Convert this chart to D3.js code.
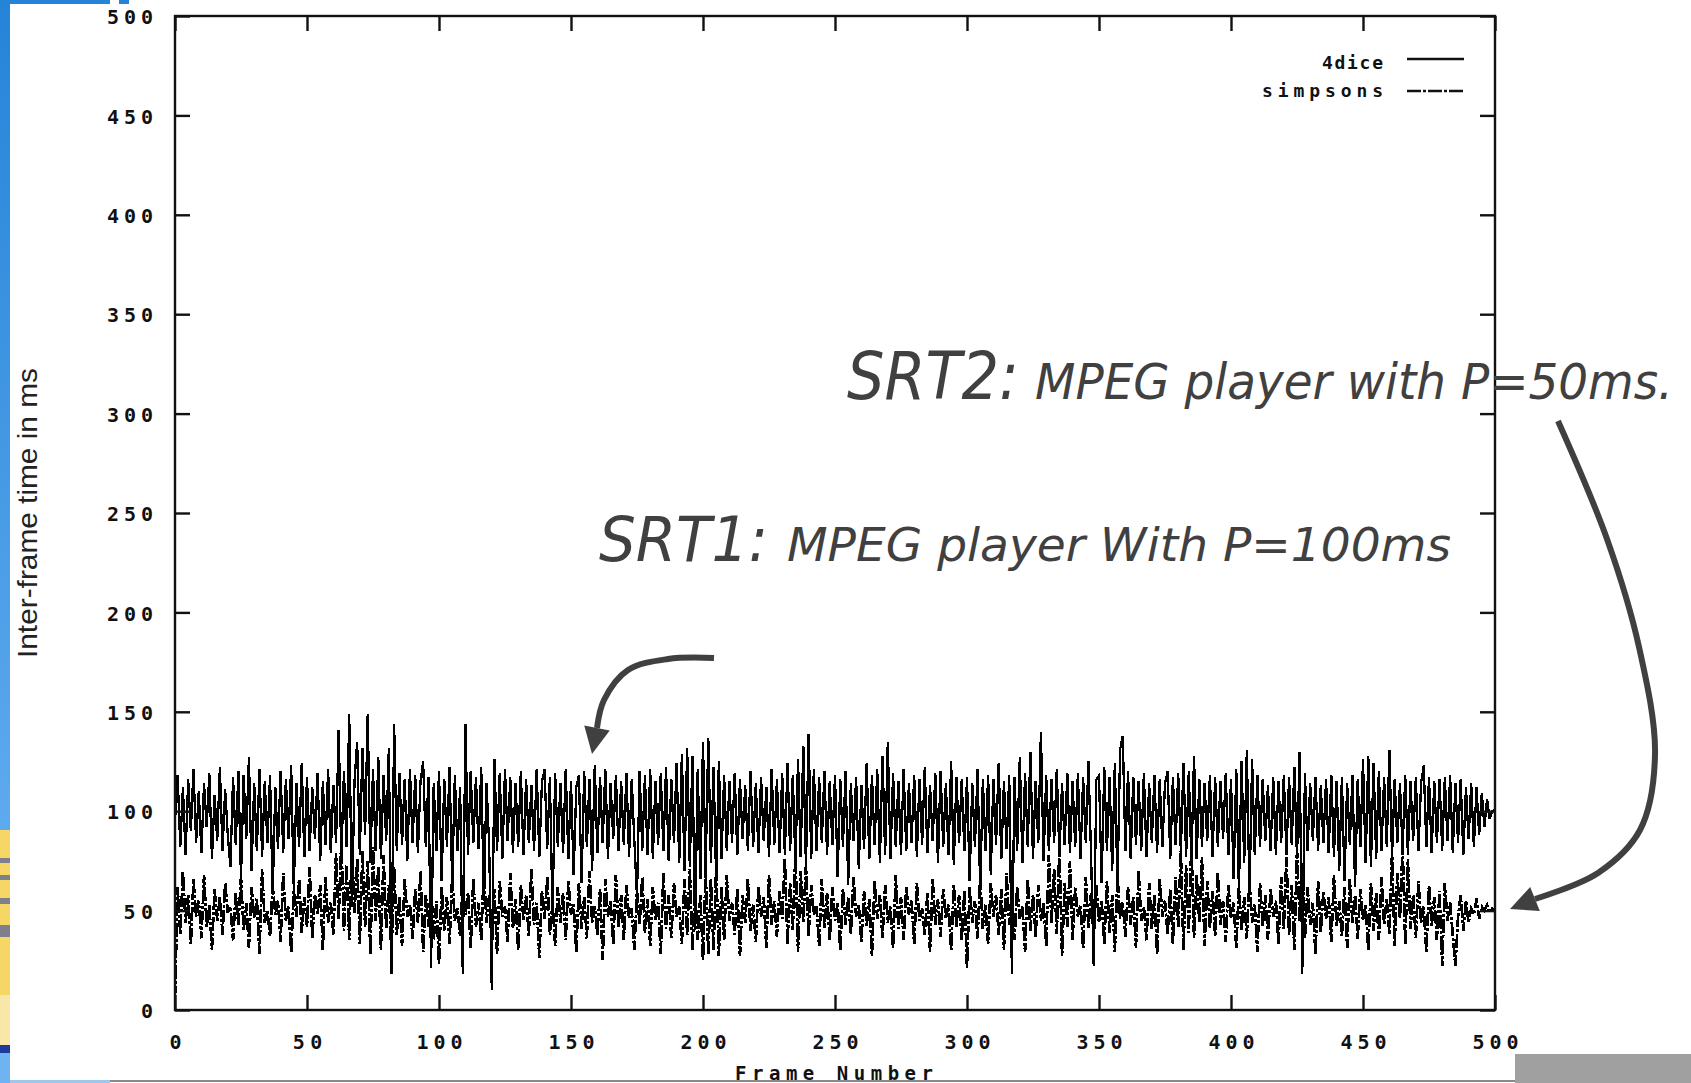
<!DOCTYPE html>
<html><head><meta charset="utf-8">
<script src="https://cdn.jsdelivr.net/npm/d3@7"></script>
<style>body{margin:0;background:#fff;overflow:hidden;} svg{display:block;}</style>
</head><body>
<svg id="chart" width="1691" height="1083"></svg>
<script>
// ---- data (frame index = array position, 0..500) ----
const dice4 = [
95,118,82,112,78,116,90,121,84,110,
79,114,92,119,76,108,85,122,80,111,
88,72,117,83,120,66,118,86,127,70,
114,80,121,77,115,84,118,58,112,81,
120,79,116,86,123,60,114,82,124,77,
117,80,112,86,119,75,115,83,121,79,
113,84,141,76,120,82,149,52,115,135,
78,132,88,149,74,121,80,127,76,118,
85,132,18,144,80,119,83,116,75,121,
84,118,79,115,125,82,117,21,114,80,
120,65,116,82,122,63,118,80,112,18,
144,78,120,84,117,81,122,55,114,83,
10,126,80,119,76,121,85,117,79,114,
82,120,78,116,84,113,80,121,77,115,
121,81,117,48,119,82,114,79,121,76,
115,68,112,118,64,120,82,116,70,123,
79,117,84,121,76,114,86,118,80,115,
83,119,77,116,85,57,120,80,118,78,
121,76,115,83,119,80,122,75,116,84,
124,74,129,70,132,72,128,40,121,66,
135,70,137,74,122,64,125,76,118,80,
115,84,119,78,116,86,113,80,120,82,
114,79,117,85,112,77,121,83,116,79,
119,78,124,80,118,74,126,77,133,72,
139,76,121,80,117,84,120,78,115,83,
118,67,116,82,120,63,114,85,117,71,
113,81,124,76,118,83,121,74,128,78,
135,76,119,82,115,78,121,80,114,84,
118,77,116,83,122,79,113,85,119,74,
120,82,114,78,125,73,117,84,116,80,
117,65,114,82,121,60,116,80,118,68,
116,83,124,76,115,81,118,18,117,80,
127,74,119,82,130,76,115,84,140,75,
118,80,116,84,121,77,114,83,119,79,
115,82,119,76,117,84,125,78,22,116,
118,64,122,80,117,70,124,62,131,138,
80,120,76,117,83,115,80,119,77,114,
84,118,79,116,82,114,120,76,117,83,
119,80,124,77,120,74,128,76,116,82,
114,85,118,77,117,82,115,86,119,78,
116,66,121,60,125,74,131,58,126,78,
118,82,116,85,113,80,117,78,115,84,
118,78,117,83,122,76,130,18,119,80,
114,85,117,80,113,84,116,79,118,77,
115,70,117,65,114,83,118,62,116,82,
126,74,128,72,124,76,120,80,117,82,
131,77,116,84,114,80,118,78,115,85,
117,80,114,123,82,117,79,115,84,116,
80,117,85,118,79,114,84,116,78,112,
86,114,82,112,88,109,92,106,96,100,
101
];
const simpsons = [
5,62,38,70,44,58,33,66,47,55,
36,68,42,53,30,61,45,57,38,64,
49,52,35,59,43,67,40,54,31,62,
46,56,28,71,44,50,37,63,48,55,
34,69,45,52,29,60,47,66,39,57,
42,72,36,58,48,63,30,67,44,54,
38,79,46,86,40,73,35,84,49,76,
33,80,42,75,28,82,45,72,30,78,
41,63,26,72,38,57,32,66,47,53,
36,61,44,70,29,58,42,64,35,55,
23,62,40,57,33,68,45,51,37,63,
48,59,31,66,42,54,35,72,44,58,
39,61,28,65,47,52,34,69,41,56,
30,63,45,58,37,71,43,54,26,60,
46,67,38,55,32,62,44,59,35,65,
48,53,29,64,41,57,36,70,44,52,
38,61,25,66,47,55,33,68,42,58,
35,63,46,51,30,60,43,67,39,56,
32,62,45,54,28,69,41,58,36,64,
47,52,33,66,38,71,30,62,35,58,
25,70,28,66,30,72,27,62,35,68,
45,54,38,61,27,58,44,66,40,53,
34,62,47,57,31,68,43,55,37,60,
46,76,33,64,40,79,29,70,44,73,
37,63,48,52,32,66,41,59,35,62,
45,54,30,61,43,57,38,67,47,53,
34,60,42,56,27,65,46,58,36,63,
44,52,31,68,41,57,35,62,48,55,
33,64,45,51,38,59,29,66,43,56,
37,61,46,53,30,63,42,58,35,60,
21,62,44,55,36,67,41,53,33,64,
47,58,38,61,30,69,43,55,35,62,
46,52,29,66,40,58,37,63,45,54,
32,78,44,71,38,82,27,64,42,75,
35,62,47,53,31,67,41,59,36,63,
44,55,33,65,39,58,29,68,46,54,
37,62,43,57,31,70,45,52,35,64,
41,58,28,66,47,55,38,61,33,67,
42,80,30,73,39,84,36,68,44,77,
32,65,41,60,37,69,43,55,34,63,
46,54,31,62,40,57,36,66,44,53,
29,64,42,58,35,61,47,55,33,67,
41,77,38,63,30,81,45,74,36,62,
43,54,28,65,39,60,46,57,34,68,
42,55,37,62,31,66,44,58,36,61,
45,53,30,64,40,59,35,67,43,56,
38,79,32,69,46,83,33,76,41,58,
36,65,44,52,29,63,42,57,35,60,
22,64,45,54,38,22,47,58,40,55,
44,51,48,56,46,52,50,53,49,51,
50
];
const seriesNames = ["4dice", "simpsons"];
const xTicks = [0, 50, 100, 150, 200, 250, 300, 350, 400, 450, 500];
const yTicks = [0, 50, 100, 150, 200, 250, 300, 350, 400, 450, 500];
const xTitle = "Frame Number";
const yTitle = "Inter-frame time in ms";
const noteSRT2 = ["SRT2:", "MPEG player with P=50ms."];
const noteSRT1 = ["SRT1:", "MPEG player With P=100ms"];

// ---- layout ----
const W = 1691, H = 1083;
const P = {left: 175, right: 1495, top: 16, bottom: 1010};
const x = d3.scaleLinear().domain([0, 500]).range([P.left, P.right]);
const y = d3.scaleLinear().domain([0, 500]).range([P.bottom, P.top]);
const svg = d3.select("#chart");
svg.append("rect").attr("width", W).attr("height", H).attr("fill", "#fff");

// ---- slide decorations ----
const defs = svg.append("defs");
const g1 = defs.append("linearGradient").attr("id", "blueStrip").attr("x1", 0).attr("x2", 0).attr("y1", 0).attr("y2", 1);
g1.append("stop").attr("offset", "0%").attr("stop-color", "#2584d8");
g1.append("stop").attr("offset", "100%").attr("stop-color", "#5eaaee");
svg.append("rect").attr("x", 0).attr("y", 0).attr("width", 10).attr("height", 830).attr("fill", "url(#blueStrip)");
svg.append("rect").attr("x", 0).attr("y", 830).attr("width", 10).attr("height", 165).attr("fill", "#f6d766");
svg.append("rect").attr("x", 0).attr("y", 995).attr("width", 10).attr("height", 50).attr("fill", "#f9e7aa");
[[858,5],[875,5],[898,6],[925,12]].forEach(s => {
  svg.append("rect").attr("x", 0).attr("y", s[0]).attr("width", 10).attr("height", s[1]).attr("fill", "#7d8088");
});
svg.append("rect").attr("x", 0).attr("y", 1045).attr("width", 10).attr("height", 8).attr("fill", "#1c3b9c");
svg.append("rect").attr("x", 0).attr("y", 1053).attr("width", 10).attr("height", 30).attr("fill", "#6fb4f0");
svg.append("rect").attr("x", 0).attr("y", 0).attr("width", 110).attr("height", 4).attr("fill", "#2584d8");
svg.append("rect").attr("x", 119).attr("y", 0).attr("width", 10).attr("height", 4).attr("fill", "#2584d8");
svg.append("rect").attr("x", 10).attr("y", 1080).attr("width", 100).attr("height", 3).attr("fill", "#9cc8f0");
svg.append("rect").attr("x", 110).attr("y", 1080).attr("width", 1405).attr("height", 2).attr("fill", "#8a8a8a");
svg.append("rect").attr("x", 1515).attr("y", 1054).attr("width", 176).attr("height", 29).attr("fill", "#a0a0a0");

// ---- data lines ----
const line = d3.line().x((d, i) => x(i)).y(d => y(d));
svg.append("path").datum(simpsons).attr("d", line)
  .attr("fill", "none").attr("stroke", "#000").attr("stroke-width", 2.7)
  .attr("stroke-dasharray", "14,2,3,2").attr("shape-rendering", "crispEdges");
svg.append("path").datum(dice4).attr("d", line)
  .attr("fill", "none").attr("stroke", "#000").attr("stroke-width", 2.3)
  .attr("shape-rendering", "crispEdges");

// ---- frame & axes ----
svg.append("rect").attr("x", P.left).attr("y", P.top)
  .attr("width", P.right - P.left).attr("height", P.bottom - P.top)
  .attr("fill", "none").attr("stroke", "#111").attr("stroke-width", 2.4);

const tickFont = "'DejaVu Sans Mono', monospace";
function styleAxis(g, showText) {
  g.select(".domain").remove();
  g.selectAll(".tick line").attr("stroke", "#111").attr("stroke-width", 2.4);
  g.selectAll(".tick text")
    .attr("font-family", tickFont).attr("font-size", 20).attr("font-weight", "bold").attr("fill", "#111")
    .each(function(d) {
      const s = String(d);
      if (s.length > 1) d3.select(this).attr("textLength", s.length * 16.5 - 3.5).attr("lengthAdjust", "spacing");
    });
  if (!showText) g.selectAll(".tick text").remove();
}
svg.append("g").attr("transform", `translate(${P.left},0)`)
  .call(d3.axisLeft(y).tickValues(yTicks).tickSize(-15).tickPadding(22).tickFormat(d3.format("d")))
  .call(g => styleAxis(g, true))
  .call(g => g.selectAll(".tick text").attr("dy", "0.38em"));
svg.append("g").attr("transform", `translate(${P.right},0)`)
  .call(d3.axisRight(y).tickValues(yTicks).tickSize(-15))
  .call(g => styleAxis(g, false));
svg.append("g").attr("transform", `translate(0,${P.bottom})`)
  .call(d3.axisBottom(x).tickValues(xTicks).tickSize(-15).tickPadding(25).tickFormat(d3.format("d")))
  .call(g => styleAxis(g, true));
svg.append("g").attr("transform", `translate(0,${P.top})`)
  .call(d3.axisTop(x).tickValues(xTicks).tickSize(-15))
  .call(g => styleAxis(g, false));

// ---- axis titles ----
svg.append("text").attr("x", 834).attr("y", 1080).attr("text-anchor", "middle")
  .attr("font-family", tickFont).attr("font-size", 19).attr("font-weight", "bold").attr("fill", "#111")
  .attr("textLength", 198).attr("lengthAdjust", "spacing").text(xTitle);
svg.append("text").attr("transform", "translate(37,513) rotate(-90)").attr("text-anchor", "middle")
  .attr("font-family", "'Liberation Sans', Arial, sans-serif").attr("font-size", 28).attr("fill", "#222")
  .attr("textLength", 290).attr("lengthAdjust", "spacingAndGlyphs").text(yTitle);

// ---- legend ----
const legendRows = [
  {name: seriesNames[0], ty: 69, ly: 59, len: 61, dash: null},
  {name: seriesNames[1], ty: 97, ly: 91, len: 121, dash: "14,2,3,2"}
];
legendRows.forEach(r => {
  svg.append("text").attr("x", 1383).attr("y", r.ty).attr("text-anchor", "end")
    .attr("font-family", tickFont).attr("font-size", 18).attr("font-weight", "bold").attr("fill", "#111")
    .attr("textLength", r.len).attr("lengthAdjust", "spacing").text(r.name);
  svg.append("line").attr("x1", 1407).attr("x2", 1464).attr("y1", r.ly).attr("y2", r.ly)
    .attr("stroke", "#111").attr("stroke-width", 2.4).attr("stroke-dasharray", r.dash);
});

// ---- annotations ----
const noteColor = "#404040";
const noteFont = "'DejaVu Sans', Verdana, sans-serif";
function note(parts, x0, base, big, small, len1, x1, len2) {
  svg.append("text").attr("x", x0).attr("y", base).attr("font-family", noteFont)
    .attr("font-style", "oblique").attr("font-size", big).attr("fill", noteColor)
    .attr("textLength", len1).attr("lengthAdjust", "spacingAndGlyphs").text(parts[0]);
  svg.append("text").attr("x", x1).attr("y", base).attr("font-family", noteFont)
    .attr("font-style", "oblique").attr("font-size", small).attr("fill", noteColor)
    .attr("textLength", len2).attr("lengthAdjust", "spacingAndGlyphs").text(parts[1]);
}
note(noteSRT2, 847, 399, 65, 49, 172, 1035, 638);
note(noteSRT1, 599, 561, 62, 47, 169, 787, 664);

function arrow(pts, tip) {
  svg.append("path").attr("d", d3.line().curve(d3.curveCatmullRom)(pts))
    .attr("fill", "none").attr("stroke", noteColor).attr("stroke-width", 6);
  const b = pts[pts.length - 1];
  const dx = tip[0] - b[0], dy = tip[1] - b[1];
  const L = Math.hypot(dx, dy), nx = -dy / L, ny = dx / L, hw = 13;
  const head = [[b[0] + nx * hw, b[1] + ny * hw], tip, [b[0] - nx * hw, b[1] - ny * hw]];
  svg.append("path").attr("d", d3.line()(head) + "Z").attr("fill", noteColor);
}
arrow([[714, 658], [668, 659], [628, 670], [604, 700], [597, 728]], [592, 754]);
arrow([[1558, 421], [1607, 539], [1639, 647], [1655, 755], [1640, 830], [1598, 873], [1535, 899]], [1510, 909]);
</script>
</body></html>
